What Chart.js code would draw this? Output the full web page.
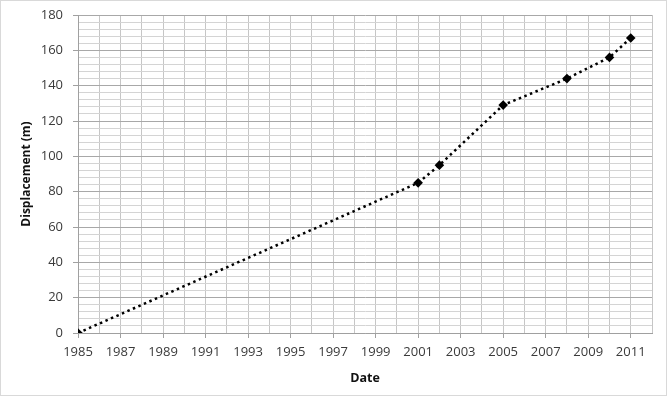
<!DOCTYPE html>
<html>
<head>
<meta charset="utf-8">
<script src="https://cdn.jsdelivr.net/npm/chart.js@4.4.1/dist/chart.umd.min.js"></script>
<style>
  html, body { margin: 0; padding: 0; background: #fff; }
  #wrap { position: relative; width: 667px; height: 396px; box-sizing: border-box; border: 1px solid #d9d9d9; }
  canvas { display: block; }
</style>
</head>
<body>
<div id="wrap"><canvas id="c" width="665" height="394"></canvas></div>
<script>
const years = [1985, 2001, 2002, 2005, 2008, 2010, 2011];
const displacement = [0, 85, 95, 129, 144, 156, 167];
const xTickLabels = [1985, 1987, 1989, 1991, 1993, 1995, 1997, 1999, 2001, 2003, 2005, 2007, 2009, 2011];
const yTickLabels = [0, 20, 40, 60, 80, 100, 120, 140, 160, 180];

const FONT = "'Open Sans', 'Liberation Sans', sans-serif";

const points = years.map((y, i) => ({ x: y, y: displacement[i] }));

new Chart(document.getElementById('c'), {
  type: 'scatter',
  data: {
    datasets: [{
      data: points,
      showLine: true,
      borderColor: '#000',
      borderWidth: 2.5,
      borderDash: [2.5, 3.5],
      borderCapStyle: 'butt',
      pointStyle: 'rectRot',
      pointRadius: 4.8,
      pointBackgroundColor: '#000',
      pointBorderColor: '#000',
      pointBorderWidth: 0,
      tension: 0
    }]
  },
  options: {
    responsive: false,
    animation: false,
    events: [],
    layout: { padding: { left: 8, right: 14, top: 14, bottom: 8 } },
    plugins: { legend: { display: false }, tooltip: { enabled: false } },
    scales: {
      x: {
        type: 'linear',
        min: 1985,
        max: 2012,
        afterBuildTicks: (s) => {
          const t = [];
          for (let v = 1985; v <= 2012; v++) t.push({ value: v });
          s.ticks = t;
        },
        afterFit: (s) => { s.height = 54; },
        ticks: {
          autoSkip: false,
          maxRotation: 0,
          minRotation: 0,
          padding: 6,
          color: '#3a3a3a',
          font: { family: FONT, size: 13 },
          callback: (v) => xTickLabels.includes(v) ? String(v) : ''
        },
        grid: {
          color: '#c6c6c6',
          lineWidth: 1,
          tickLength: 5,
          tickColor: (ctx) => (ctx.tick && xTickLabels.includes(ctx.tick.value)) ? '#a0a0a0' : 'rgba(0,0,0,0)'
        },
        border: { display: true, color: '#a0a0a0' },
        title: {
          display: true,
          text: 'Date',
          color: '#111',
          font: { family: FONT, size: 12.5, weight: 'bold' },
          padding: { top: 2, bottom: 1 }
        }
      },
      y: {
        type: 'linear',
        min: 0,
        max: 180,
        afterBuildTicks: (s) => {
          const t = [];
          for (let v = 0; v <= 180; v += 4) t.push({ value: v });
          s.ticks = t;
        },
        afterFit: (s) => { s.width = 69; s.paddingTop = 0; s.paddingBottom = 0; },
        ticks: {
          autoSkip: false,
          padding: 10,
          color: '#3a3a3a',
          font: { family: FONT, size: 13 },
          callback: (v) => yTickLabels.includes(v) ? String(v) : ''
        },
        grid: {
          color: (ctx) => (ctx.tick && ctx.tick.value % 20 === 0) ? '#a8a8a8' : '#d4d4d4',
          lineWidth: 1,
          tickLength: 5,
          tickColor: (ctx) => (ctx.tick && ctx.tick.value % 20 === 0) ? '#a0a0a0' : 'rgba(0,0,0,0)'
        },
        border: { display: true, color: '#a0a0a0' },
        title: {
          display: true,
          text: 'Displacement (m)',
          color: '#111',
          font: { family: FONT, size: 12, weight: 'bold' },
          padding: { top: 10, bottom: 4 }
        }
      }
    }
  }
});
</script>
</body>
</html>
